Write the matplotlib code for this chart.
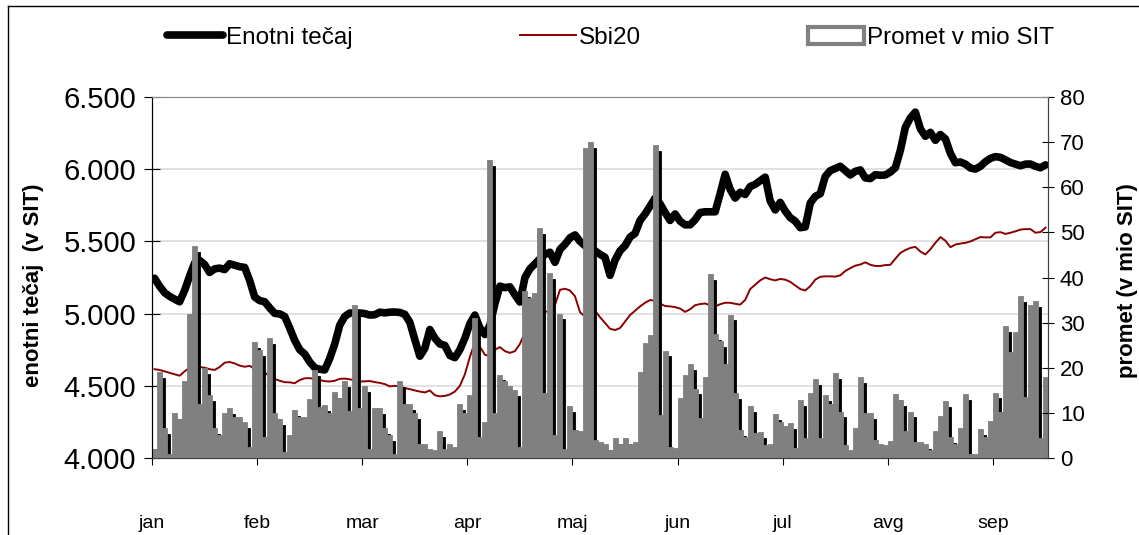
import numpy as np
import matplotlib
matplotlib.use("Agg")
import matplotlib.pyplot as plt
from matplotlib.ticker import FuncFormatter
from matplotlib.lines import Line2D
from matplotlib.patches import Patch

plt.rcParams['font.family'] = ['Liberation Sans', 'DejaVu Sans']

# trading days, one label every 21 days
months = ["jan", "feb", "mar", "apr", "maj", "jun", "jul", "avg", "sep"]
days_per_month = 21

# enotni tecaj (SIT)
enotni = [
    5245, 5190, 5145, 5120, 5100, 5082, 5160, 5260, 5350, 5368,
    5340, 5285, 5310, 5315, 5305, 5345, 5335, 5325, 5320, 5230,
    5115, 5090, 5082, 5040, 5002, 4998, 4980, 4900, 4815, 4750,
    4720, 4665, 4625, 4615, 4610, 4690, 4790, 4920, 4980, 5004,
    5004, 5004, 5000, 4990, 4992, 5010, 5005, 5010, 5011, 5008,
    4995, 4940, 4820, 4705, 4760, 4890, 4830, 4790, 4780, 4710,
    4695, 4750, 4830, 4930, 4990, 4900, 4855, 4920, 5070, 5190,
    5180, 5185, 5130, 5080, 5250, 5310, 5345, 5380, 5410, 5425,
    5355, 5445, 5480, 5525, 5545, 5500, 5470, 5450, 5435, 5410,
    5390, 5265, 5370, 5435, 5470, 5530, 5555, 5645, 5690, 5745,
    5800, 5760, 5700, 5645, 5690, 5640, 5615, 5615, 5650, 5700,
    5705, 5705, 5705, 5830, 5965, 5860, 5800, 5840, 5825, 5880,
    5895, 5920, 5945, 5780, 5718, 5770, 5710, 5665, 5640, 5595,
    5600, 5765, 5812, 5830, 5950, 5990, 6005, 6020, 5990, 5960,
    5985, 5995, 5940, 5935, 5962, 5958, 5960, 5980, 6010, 6130,
    6290, 6355, 6395, 6280, 6228, 6255, 6200, 6240, 6210, 6110,
    6045, 6050, 6035, 6008, 6001, 6020, 6052, 6075, 6087, 6082,
    6065, 6046, 6035, 6024, 6035, 6036, 6020, 6010, 6030,
]

# Sbi20 index, drawn on the left scale
sbi20 = [
    4615, 4610, 4600, 4590, 4580, 4570, 4600, 4625, 4632, 4630,
    4625, 4615, 4610, 4630, 4660, 4665, 4655, 4640, 4632, 4638,
    4618, 4603, 4590, 4568, 4548, 4535, 4525, 4524, 4518, 4540,
    4552, 4553, 4548, 4540, 4532, 4530, 4535, 4548, 4550, 4545,
    4537, 4530, 4531, 4533, 4526, 4520, 4512, 4496, 4500, 4495,
    4484, 4477, 4468, 4460, 4454, 4468, 4435, 4427, 4430, 4440,
    4460, 4500, 4580, 4700, 4800, 4770, 4715, 4705, 4750, 4768,
    4740, 4728, 4740, 4790, 4870, 4980, 5010, 5020, 5015, 5013,
    5060, 5165, 5172, 5160, 5120, 5010, 4980, 5010, 5020, 4975,
    4935, 4895, 4886, 4900, 4945, 4990, 5020, 5050, 5075, 5094,
    5088, 5070, 5052, 5050, 5045, 5035, 5012, 5030, 5058, 5066,
    5070, 5058, 5050, 5065, 5075, 5075, 5068, 5062, 5095, 5170,
    5200, 5230, 5250, 5238, 5230, 5240, 5235, 5220, 5195, 5170,
    5160, 5190, 5235, 5255, 5258, 5258, 5256, 5265, 5295, 5315,
    5332, 5340, 5355, 5338, 5330, 5330, 5336, 5338, 5380, 5420,
    5440, 5455, 5462, 5430, 5410, 5445, 5490, 5530, 5505, 5460,
    5478, 5485, 5490, 5500, 5515, 5530, 5528, 5528, 5560, 5564,
    5552, 5560, 5570, 5582, 5585, 5585, 5560, 5565, 5595,
]

# promet v mio SIT
promet = [
    2, 19, 6.6, 1, 10, 8.6, 17, 32, 47, 12,
    20, 14, 6.6, 5, 10, 11, 9, 9, 8, 2.5,
    25.6, 24, 4.7, 26.5, 10, 8.6, 1.4, 5, 10.6, 9,
    9, 13, 19.5, 11.4, 11.7, 10, 14.7, 13.2, 17, 10.5,
    33.8, 11, 16, 2, 11, 11, 6.6, 5, 1, 17,
    12, 12, 10, 3, 3, 2, 1.8, 6, 2, 3,
    2.5, 12, 10, 14, 31, 4.7, 8, 66, 10, 18.5,
    17, 16, 15, 2.5, 37, 35.5, 36.5, 51, 14.3, 41,
    5, 32, 2, 11.6, 6.2, 6, 68.6, 70, 4, 3.6,
    3, 1.8, 4.4, 3, 4.4, 3, 3.6, 19, 25.4, 27.2,
    69.3, 9.5, 23.8, 2.5, 2.3, 13.2, 18.4, 20.8, 15.4, 8.8,
    18, 40.8, 27.4, 26, 20.8, 31.8, 14.3, 6.2, 4.7, 11.6,
    5.5, 5.8, 2.9, 3, 9.7, 8, 7, 7.7, 2.3, 12.9,
    4.5, 14.3, 17.5, 4.4, 14, 12, 18.8, 10.3, 2.9, 1.8,
    6.6, 18, 10, 10, 4, 3.2, 2.9, 3.8, 14.2, 12.9,
    6, 10.3, 3.6, 3.6, 3.2, 1.8, 6, 9.4, 12.6, 4.7,
    3.2, 6.6, 14.1, 1, 1, 6.4, 4.7, 8.2, 14.5, 10.3,
    29.3, 23.6, 28, 35.9, 13.6, 33.9, 34.8, 4.4, 18,
]

n = len(promet)
x = np.arange(n) + 0.5

fig = plt.figure(figsize=(11.39, 5.35), dpi=100)
ax = fig.add_axes([0.1335, 0.1439, 0.7866, 0.6748])
ax2 = ax.twinx()

# lines sit under the bars
ax.plot(x, enotni, color="black", lw=5.5, solid_joinstyle="round",
        solid_capstyle="round", zorder=3)
ax.plot(x, sbi20, color="#8b0000", lw=1.4, zorder=3)

# bars with a black drop shadow
p = np.array(promet)
ax2.bar(x + 0.6, np.clip(p - 1.3, 0, None), width=1.0, color="black",
        edgecolor="black", linewidth=0.6)
ax2.bar(x, p, width=1.0, color="#808080", edgecolor="#808080", linewidth=0.6)

ax.set_xlim(0, n)
ax.set_ylim(4000, 6500)
ax2.set_ylim(0, 80)

ax.set_yticks(np.arange(4000, 6501, 500))
ax.yaxis.set_major_formatter(FuncFormatter(lambda v, _: f"{v:,.0f}".replace(",", ".")))
ax2.set_yticks(np.arange(0, 81, 10))
ax.yaxis.grid(True, color="#dcdcdc", lw=1.2)
ax.set_axisbelow(True)

ax.set_xticks(np.arange(0, n, days_per_month))
ax.set_xticklabels(months)

ax.tick_params(axis="x", direction="out", length=5, pad=36, labelsize=14)
ax.tick_params(axis="y", direction="inout", length=11, labelsize=21, pad=6)
ax2.tick_params(axis="y", direction="inout", length=9, labelsize=16, pad=4)

for a in (ax, ax2):
    a.spines["top"].set_color("#8c8c8c")
    a.spines["left"].set_color("black")
    a.spines["right"].set_color("#404040")
    a.spines["bottom"].set_color("#404040")

fig.text(34 / 1139, 0.467, "enotni tečaj  (v SIT)", rotation=90, ha="center",
         va="center", fontsize=16, fontweight="bold")
fig.text(1128 / 1139, 0.475, "promet (v mio SIT)", rotation=90, ha="center",
         va="center", fontsize=16, fontweight="bold")

handles = [
    Line2D([], [], color="black", lw=5.5, solid_capstyle="round"),
    Line2D([], [], color="#8b0000", lw=1.4),
    Patch(facecolor="white", edgecolor="#808080", lw=3),
]
fig.legend(handles, ["Enotni tečaj", "Sbi20", "Promet v mio SIT"],
           loc="center", bbox_to_anchor=(0.536, 0.929), ncol=3,
           frameon=False, fontsize=17.5, handlelength=2.3,
           handletextpad=0.1, columnspacing=6.9)

# outer chart border (left and top edges visible)
fig.add_artist(Line2D([8 / 1139, 8 / 1139], [0, 1 - 6 / 535], color="black",
                      lw=1, transform=fig.transFigure))
fig.add_artist(Line2D([8 / 1139, 1], [1 - 6 / 535, 1 - 6 / 535], color="black",
                      lw=1, transform=fig.transFigure))

fig.savefig("out.png", dpi=100)
